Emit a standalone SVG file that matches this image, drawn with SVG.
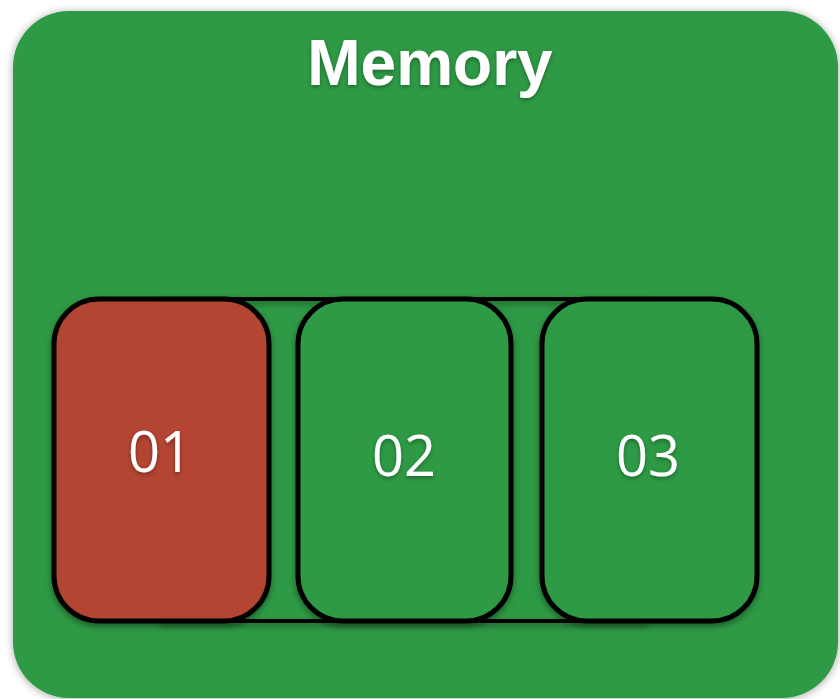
<svg xmlns="http://www.w3.org/2000/svg" width="840" height="699" viewBox="0 0 840 699">
<defs>
<filter id="sh" x="-10%" y="-10%" width="120%" height="120%">
<feDropShadow dx="0" dy="1" stdDeviation="4" flood-color="#000" flood-opacity="0.35"/>
</filter>
<filter id="bs" x="-10%" y="-10%" width="120%" height="120%">
<feDropShadow dx="0" dy="3" stdDeviation="3" flood-color="#000" flood-opacity="0.4"/>
</filter>
<filter id="ts" x="-20%" y="-20%" width="140%" height="140%">
<feDropShadow dx="0" dy="2" stdDeviation="2" flood-color="#000" flood-opacity="0.35"/>
</filter>
</defs>
<style>
.cell{stroke:#000;stroke-width:5;filter:url(#bs)}
.green{fill:#2e9a45}
.red{fill:#b44533}
.num{font-family:"Open Sans","Liberation Sans",sans-serif;font-size:56px;fill:#fff;text-anchor:middle;filter:url(#ts)}
</style>
<rect width="840" height="699" fill="#fff"/>
<g id="memory">
<rect x="13" y="11" width="825" height="687" rx="56" ry="56" class="green" filter="url(#sh)"/>
<text x="430" y="85" font-family="'Liberation Sans',Arial,sans-serif" font-weight="bold" font-size="64" fill="#fff" text-anchor="middle" filter="url(#ts)">Memory</text>
</g>
<g id="array" stroke="#000" stroke-width="4" filter="url(#bs)">
<line x1="160" y1="299" x2="648" y2="299"/>
<line x1="160" y1="621" x2="648" y2="621"/>
</g>
<g id="cell01">
<rect x="54" y="299" width="215" height="322" rx="45" ry="45" class="cell red"/>
<text x="160" y="472" class="num">01</text>
</g>
<g id="cell02">
<rect x="298" y="299" width="213" height="322" rx="45" ry="45" class="cell green"/>
<text x="404" y="476" class="num">02</text>
</g>
<g id="cell03">
<rect x="542" y="299" width="215" height="322" rx="45" ry="45" class="cell green"/>
<text x="648" y="476" class="num">03</text>
</g>
</svg>
